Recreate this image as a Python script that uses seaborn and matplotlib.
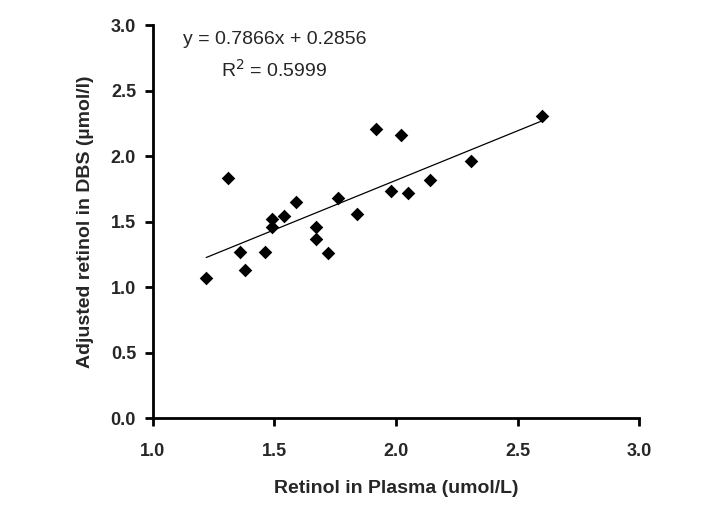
import matplotlib
matplotlib.use("Agg")
import matplotlib.pyplot as plt
import pandas as pd
import seaborn as sns

# values
plasma = [1.22, 1.31, 1.36, 1.38, 1.46, 1.49, 1.49, 1.54, 1.59, 1.67, 1.67,
          1.72, 1.76, 1.84, 1.92, 2.02, 1.98, 2.05, 2.14, 2.31, 2.60]
dbs = [1.07, 1.83, 1.27, 1.13, 1.27, 1.52, 1.46, 1.54, 1.65, 1.46, 1.37,
       1.26, 1.68, 1.56, 2.21, 2.16, 1.73, 1.72, 1.82, 1.96, 2.31]
ticks = [0.0, 0.5, 1.0, 1.5, 2.0, 2.5, 3.0]

df = pd.DataFrame({"plasma": plasma, "dbs": dbs})

sns.set_style("ticks")
plt.rcParams["font.family"] = ["Liberation Sans", "DejaVu Sans"]

fig = plt.figure(figsize=(7.07, 5.13), dpi=100)
ax = fig.add_axes([0.216, 0.185, 0.688, 0.766])

sns.regplot(x="plasma", y="dbs", data=df, ci=None, ax=ax,
            marker="D", color="black",
            scatter_kws={"s": 48, "linewidths": 0, "alpha": 1},
            line_kws={"linewidth": 0.9})

ax.set_xlim(1.0, 3.0)
ax.set_ylim(0.0, 3.0)
ax.set_xticks(ticks[2:])
ax.set_yticks(ticks)
ax.xaxis.set_major_formatter(matplotlib.ticker.FormatStrFormatter("%.1f"))
ax.yaxis.set_major_formatter(matplotlib.ticker.FormatStrFormatter("%.1f"))
for lab in ax.get_xticklabels() + ax.get_yticklabels():
    lab.set_fontweight("bold")
ax.tick_params(labelsize=13, width=2, length=6, color="black")
ax.tick_params(axis="x", pad=12)
ax.tick_params(axis="y", pad=6)
for s in ["left", "bottom"]:
    ax.spines[s].set_linewidth(2)
    ax.spines[s].set_color("black")
sns.despine(ax=ax)

ax.set_xlabel("Retinol in Plasma (umol/L)", fontsize=14, fontweight="bold", labelpad=14)
ax.set_ylabel("Adjusted retinol in DBS (\u00b5mol/l)", fontsize=14, fontweight="bold", labelpad=12)

ax.text(1.50, 2.89, "y = 0.7866x + 0.2856", fontsize=14, ha="center", va="center")
ax.text(1.50, 2.66, "R$^2$ = 0.5999", fontsize=14, ha="center", va="center")

plt.savefig("out.png", dpi=100)
